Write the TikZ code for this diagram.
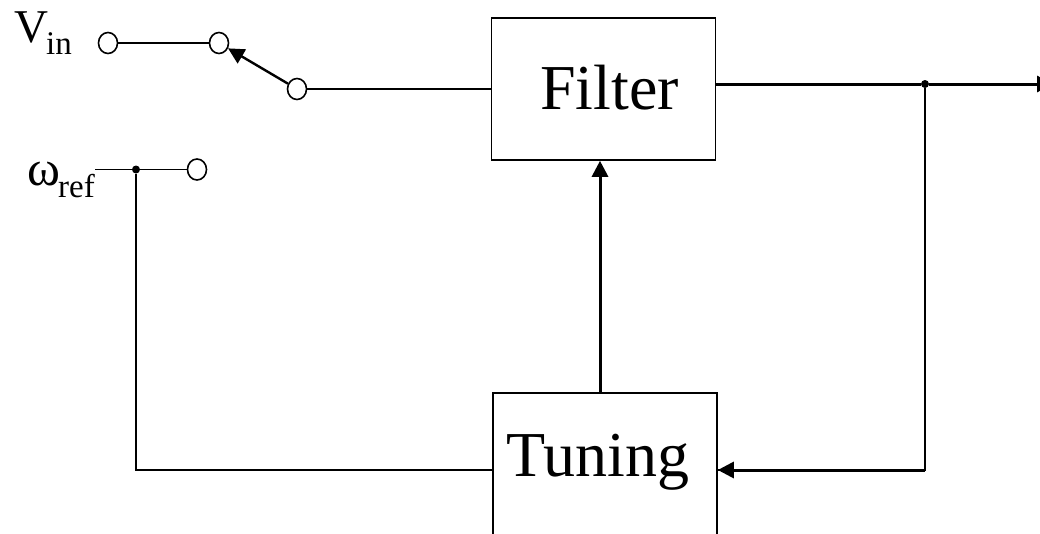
\documentclass[tikz,border=0pt]{standalone}
\usepackage{fontspec}
\usetikzlibrary{arrows.meta,shapes.geometric}
\setmainfont{Liberation Serif}
\newcommand{\lowtext}[2]{\raisebox{#1}{\fontsize{33}{36}\selectfont #2}}

\begin{document}
\begin{tikzpicture}[x=1pt,y=-1pt,
        main/.style = {draw, line width=1.6pt, minimum width=224pt, inner sep=0pt, font=\fontsize{64}{70}\selectfont, text height=42pt},
        term/.style = {draw, ellipse, line width=1.6pt, minimum width=19pt, minimum height=21pt, inner sep=0pt},
        dot/.style = {circle, fill=black, minimum size=8pt, inner sep=0pt},
        wire/.style = {line width=1.6pt},
        arr/.style = {line width=3pt, -{Triangle[length=16pt,width=16pt]}}]
        \useasboundingbox (0,0) rectangle (1040,533);
        \node[main, minimum height=142pt] (filter) at (603.5,89) {\hspace*{12pt}Filter};
        \node[main, minimum height=154pt, text depth=30pt] (tuning) at (605,470) {\hspace*{-14pt}Tuning};
        \node[term] (1) at (108,43) {};
        \node[term] (2) at (219,43) {};
        \node[term] (3) at (297,89) {};
        \node[term] (4) at (197,169.5) {};
        \node[dot] (5) at (136,169.5) {};
        \node[dot] (6) at (925,84) {};
        \node[anchor=base west, inner sep=0pt, font=\fontsize{47}{50}\selectfont] (vin) at (14,42) {V\hspace{-2pt}\lowtext{-12pt}{in}};
        \node[anchor=base west, inner sep=0pt, font=\fontsize{50}{54}\selectfont] (wref) at (27,185) {ω\hspace{-2pt}\lowtext{-12pt}{ref}};
        \coordinate (7) at (1053,84);
        \coordinate (8) at (95,169.5);
        \coordinate (9) at (600,393);
        \draw[wire] (1) -- (2);
        \draw[line width=2.4pt, -{Triangle[length=16pt,width=16pt]}] (3) -- (2);
        \draw[wire] (3) -- (3 -| filter.west);
        \draw[wire] (8) -- (5);
        \draw[wire] (5) -- (4);
        \draw[wire] (5) |- (tuning.west);
        \draw[arr] (9) -- (9 |- filter.south);
        \draw[line width=3pt] (6 -| filter.east) -- (6);
        \draw[arr] (6) -- (7);
        \draw[wire] (6) |- (tuning.east);
        \draw[arr] (tuning.east -| 6) -- (tuning.east);
\end{tikzpicture}
\end{document}
